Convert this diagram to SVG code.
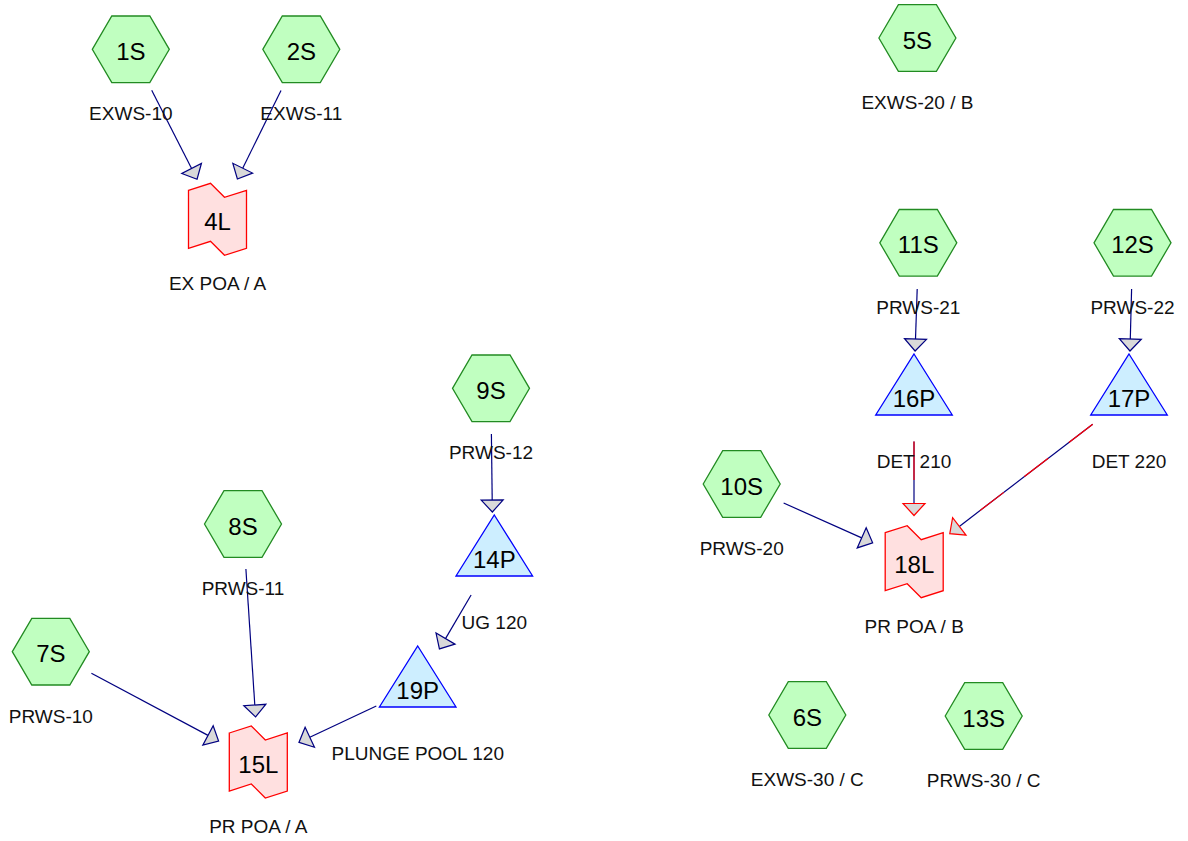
<svg xmlns="http://www.w3.org/2000/svg" xmlns:xlink="http://www.w3.org/1999/xlink" width="1188" height="841" viewBox="0 0 1188 841">
<style>
.hex{fill:#c0ffc0;stroke:#228b22;stroke-width:1.3}
.tri{fill:#cdeeff;stroke:#0000ff;stroke-width:1.3}
.lake{fill:#ffe0e0;stroke:#ff0000;stroke-width:1.3}
.nl{font-family:"Liberation Sans",Arial,sans-serif;font-size:24px;fill:#000;text-anchor:middle}
.sl{font-family:"Liberation Sans",Arial,sans-serif;font-size:19px;fill:#111;text-anchor:middle}
.e{stroke:#000080;stroke-width:1.2;fill:none;marker-end:url(#arr)}
.er{stroke:#000080;stroke-width:1.2;fill:none;marker-end:url(#arrR)}
.red{stroke:#ff0000;stroke-width:1.2;fill:none}
</style>
<defs>
<polygon id="hexs" points="-38.5,0 -19,-33.3 19,-33.3 38.5,0 19,33.3 -19,33.3"/>
<polygon id="tris" points="0,-39 38.3,22 -38.3,22"/>
<polygon id="lakes" points="-29,-29 -7,-36 7,-22 29,-29 29,29 7,36 -7,22 -29,29"/>
<marker id="arr" markerUnits="userSpaceOnUse" orient="auto" refX="0" refY="0" markerWidth="20" markerHeight="30" overflow="visible">
<path d="M0,-11 L12,0 L0,11 Z" fill="#d9d9d9" stroke="#000080" stroke-width="1.2"/>
</marker>
<marker id="arrR" markerUnits="userSpaceOnUse" orient="auto" refX="0" refY="0" markerWidth="20" markerHeight="30" overflow="visible">
<path d="M0,-11 L12,0 L0,11 Z" fill="#d9d9d9" stroke="#ff0000" stroke-width="1.2"/>
</marker>
</defs>
<rect width="1188" height="841" fill="#ffffff"/>

<g id="edges">
<line class="e" x1="151.7" y1="90.3" x2="191.6" y2="168.5"/>
<line class="e" x1="281" y1="90.6" x2="242.7" y2="168.2"/>
<line class="e" x1="491.4" y1="434" x2="492.2" y2="500"/>
<line class="e" x1="471.1" y1="595" x2="445.5" y2="638.6"/>
<line class="e" x1="245.9" y1="569" x2="254.8" y2="705"/>
<line class="e" x1="91.4" y1="673.3" x2="208" y2="735.4"/>
<line class="e" x1="376.3" y1="706" x2="309.8" y2="737.3"/>
<line class="e" x1="917.2" y1="289" x2="915.5" y2="339"/>
<line class="e" x1="1131.6" y1="289" x2="1130.3" y2="339"/>
<line class="e" x1="783.6" y1="503" x2="861.7" y2="537.9"/>
<line class="er" x1="914" y1="441.5" x2="914" y2="503.5"/>
<line class="red" x1="914" y1="441.5" x2="914" y2="480"/>
<line class="er" x1="1092.7" y1="424.3" x2="959.3" y2="526.4"/>
<line class="red" x1="1092.7" y1="424.3" x2="959.3" y2="526.4" stroke-dasharray="30,26"/>
</g>

<g id="n1S" transform="translate(130.8,49.3)"><use href="#hexs" class="hex"/><text class="nl" x="0" y="10.5">1S</text><text class="sl" x="0" y="71">EXWS-10</text></g>
<g id="n2S" transform="translate(301.3,49.3)"><use href="#hexs" class="hex"/><text class="nl" x="0" y="10.5">2S</text><text class="sl" x="0" y="71">EXWS-11</text></g>
<g id="n5S" transform="translate(917.4,38)"><use href="#hexs" class="hex"/><text class="nl" x="0" y="10.5">5S</text><text class="sl" x="0" y="71">EXWS-20 / B</text></g>
<g id="n11S" transform="translate(918.3,242.8)"><use href="#hexs" class="hex"/><text class="nl" x="0" y="10.5">11S</text><text class="sl" x="0" y="71">PRWS-21</text></g>
<g id="n12S" transform="translate(1132.5,242.8)"><use href="#hexs" class="hex"/><text class="nl" x="0" y="10.5">12S</text><text class="sl" x="0" y="71">PRWS-22</text></g>
<g id="n9S" transform="translate(491,388.3)"><use href="#hexs" class="hex"/><text class="nl" x="0" y="10.5">9S</text><text class="sl" x="0" y="71">PRWS-12</text></g>
<g id="n8S" transform="translate(243,524)"><use href="#hexs" class="hex"/><text class="nl" x="0" y="10.5">8S</text><text class="sl" x="0" y="71">PRWS-11</text></g>
<g id="n10S" transform="translate(741.7,484)"><use href="#hexs" class="hex"/><text class="nl" x="0" y="10.5">10S</text><text class="sl" x="0" y="71">PRWS-20</text></g>
<g id="n7S" transform="translate(50.8,651.7)"><use href="#hexs" class="hex"/><text class="nl" x="0" y="10.5">7S</text><text class="sl" x="0" y="71">PRWS-10</text></g>
<g id="n6S" transform="translate(807.3,715)"><use href="#hexs" class="hex"/><text class="nl" x="0" y="10.5">6S</text><text class="sl" x="0" y="71">EXWS-30 / C</text></g>
<g id="n13S" transform="translate(983.7,716)"><use href="#hexs" class="hex"/><text class="nl" x="0" y="10.5">13S</text><text class="sl" x="0" y="71">PRWS-30 / C</text></g>

<g id="n14P" transform="translate(494.3,554)"><use href="#tris" class="tri"/><text class="nl" x="0" y="14">14P</text><text class="sl" x="0" y="74.5">UG 120</text></g>
<g id="n19P" transform="translate(417.7,685)"><use href="#tris" class="tri"/><text class="nl" x="0" y="14">19P</text><text class="sl" x="0" y="74.5">PLUNGE POOL 120</text></g>
<g id="n16P" transform="translate(914,393)"><use href="#tris" class="tri"/><text class="nl" x="0" y="14">16P</text><text class="sl" x="0" y="74.5">DET 210</text></g>
<g id="n17P" transform="translate(1129,393)"><use href="#tris" class="tri"/><text class="nl" x="0" y="14">17P</text><text class="sl" x="0" y="74.5">DET 220</text></g>

<g id="n4L" transform="translate(217.5,219.3)"><use href="#lakes" class="lake"/><text class="nl" x="0" y="11">4L</text><text class="sl" x="0" y="71">EX POA / A</text></g>
<g id="n15L" transform="translate(258.3,762)"><use href="#lakes" class="lake"/><text class="nl" x="0" y="11">15L</text><text class="sl" x="0" y="71">PR POA / A</text></g>
<g id="n18L" transform="translate(914.2,561.7)"><use href="#lakes" class="lake"/><text class="nl" x="0" y="11">18L</text><text class="sl" x="0" y="71">PR POA / B</text></g>
</svg>
